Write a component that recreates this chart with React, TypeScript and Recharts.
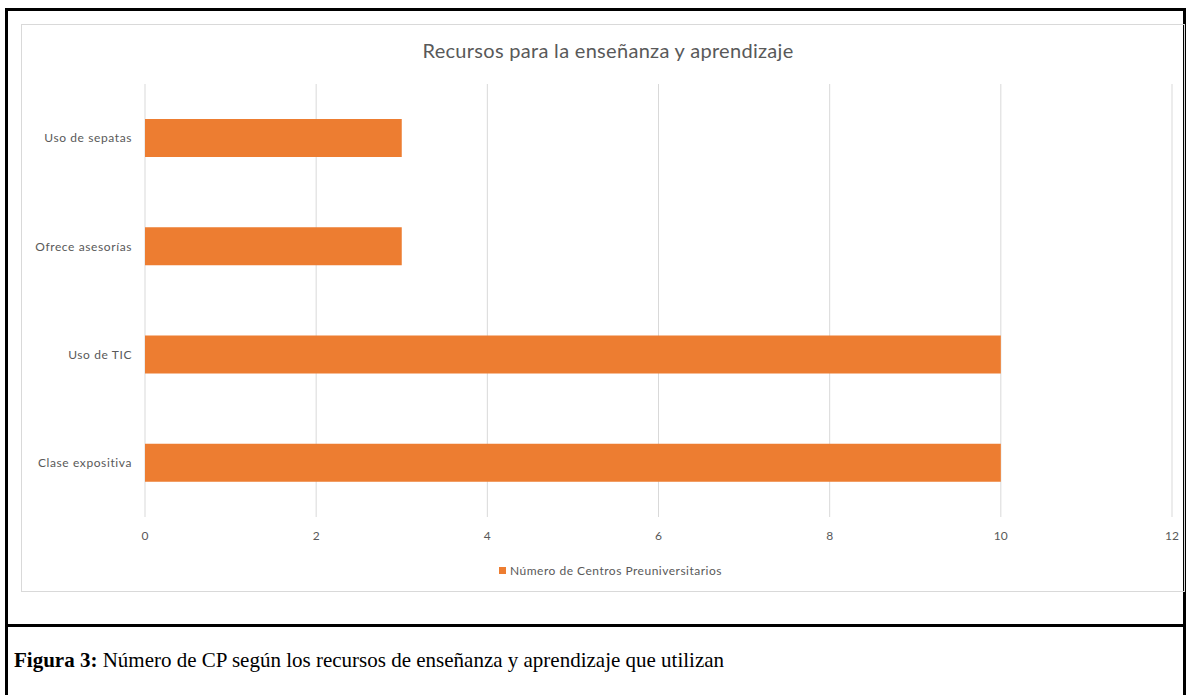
import React from 'react';
import { BarChart, Bar, XAxis, YAxis, CartesianGrid, Legend } from 'recharts';

// categories from top to bottom as they appear in the chart
const categories = ['Uso de sepatas', 'Ofrece asesorías', 'Uso de TIC', 'Clase expositiva'];
const centros = [3, 3, 10, 10];
const xTicks = [0, 2, 4, 6, 8, 10, 12];

const seriesName = 'Número de Centros Preuniversitarios';
const data = categories.map((c, i) => ({ name: c, centros: centros[i] }));

const FONT = 'Lato, "Open Sans", sans-serif';
const GREY_TEXT = '#595959';
const GRID = '#d9d9d9';
const ORANGE = '#ED7D31';

const LegendBox = () => (
  <div
    style={{
      display: 'flex',
      justifyContent: 'center',
      alignItems: 'center',
      paddingTop: 6,
      paddingLeft: 28,
      fontFamily: FONT,
      fontSize: 12,
      letterSpacing: 0.5,
      color: GREY_TEXT,
    }}
  >
    <span style={{ width: 7, height: 7, background: ORANGE, display: 'inline-block', marginRight: 4 }} />
    <span>{seriesName}</span>
  </div>
);

const App: React.FC = () => {
  return (
    <div style={{ position: 'absolute', left: 0, top: 0, width: 1186, height: 695, overflow: 'hidden', background: '#fff' }}>
      {/* table borders */}
      <div
        style={{
          position: 'absolute',
          left: 5,
          top: 8,
          width: 1181,
          height: 720,
          border: '3px solid #000',
          boxSizing: 'border-box',
        }}
      />
      <div style={{ position: 'absolute', left: 5, top: 624, width: 1181, height: 3, background: '#000' }} />

      {/* chart frame */}
      <div
        style={{
          position: 'absolute',
          left: 21,
          top: 24,
          width: 1164,
          height: 568,
          border: `1px solid ${GRID}`,
          boxSizing: 'border-box',
        }}
      />
      <div
        style={{
          position: 'absolute',
          left: 21,
          top: 38,
          width: 1174,
          textAlign: 'center',
          fontFamily: FONT,
          fontSize: 20,
          letterSpacing: 0.3,
          color: GREY_TEXT,
        }}
      >
        Recursos para la enseñanza y aprendizaje
      </div>

      <div style={{ position: 'absolute', left: 21, top: 24 }}>
        <BarChart
          width={1163}
          height={567}
          data={data}
          layout="vertical"
          margin={{ top: 60, right: 12, left: 0, bottom: 0 }}
          barSize={38}
        >
          <CartesianGrid horizontal={false} stroke={GRID} strokeWidth={1} />
          <XAxis
            type="number"
            domain={[0, 12]}
            ticks={xTicks}
            axisLine={false}
            tickLine={false}
            tickSize={0}
            tickMargin={14}
            height={40}
            tick={{ fill: GREY_TEXT, fontSize: 12, fontFamily: FONT }}
          />
          <YAxis
            type="category"
            dataKey="name"
            width={124}
            axisLine={false}
            tickLine={false}
            tickSize={0}
            tickMargin={13}
            tick={{ fill: GREY_TEXT, fontSize: 12, fontFamily: FONT, letterSpacing: 0.6 }}
          />
          <Legend verticalAlign="bottom" height={34} content={<LegendBox />} />
          <Bar dataKey="centros" name={seriesName} fill={ORANGE} isAnimationActive={false} />
        </BarChart>
      </div>

      <div
        style={{
          position: 'absolute',
          left: 14,
          top: 648,
          fontFamily: '"Liberation Serif", "Times New Roman", serif',
          fontSize: 21,
          color: '#000',
          whiteSpace: 'nowrap',
        }}
      >
        <b>Figura 3:</b> Número de CP según los recursos de enseñanza y aprendizaje que utilizan
      </div>
    </div>
  );
};

export default App;
